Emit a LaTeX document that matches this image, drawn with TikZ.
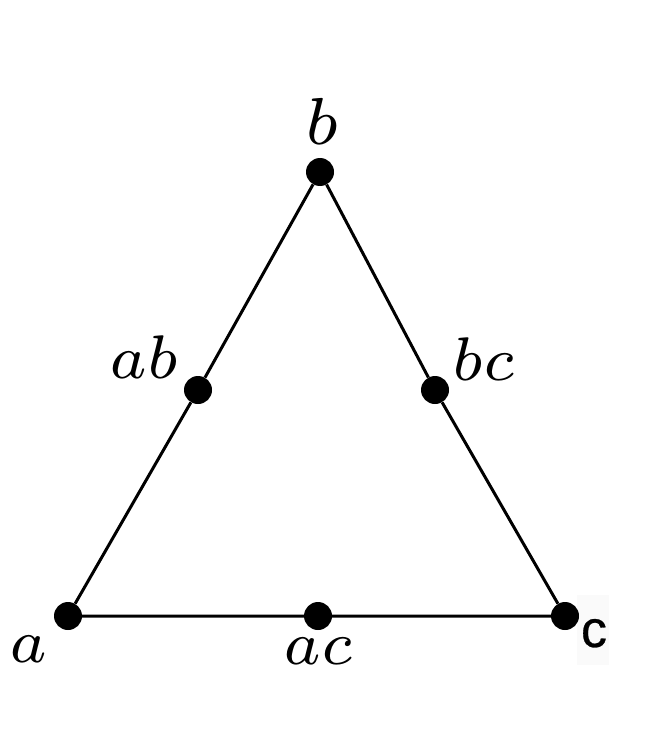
\documentclass[tikz,border=0pt]{standalone}
\usepackage{fontspec}
\usepackage{graphicx}
\newfontfamily\sansc[FakeBold=0.5]{Liberation Sans}
\begin{document}
\begin{tikzpicture}[x=1pt,y=-1pt,
  dot/.style={circle,fill=black,minimum size=28pt,inner sep=0pt},
  lbl/.style={anchor=base,inner sep=0pt},
  edge/.style={line width=3pt}]
\useasboundingbox (0,0) rectangle (665,738);
\fill[white] (0,0) rectangle (665,738);
\fill[black!2] (577,595) rectangle (609,665);
\node[dot] (a) at (68,616) {};
\node[dot] (b) at (320,172) {};
\node[dot] (c) at (565,616) {};
\node[dot] (ab) at (198,390) {};
\node[dot] (bc) at (435,390) {};
\node[dot] (ac) at (318,616) {};
\draw[edge] (a) -- (ab) -- (b) -- (bc) -- (c) -- (ac) -- (a);
\node[lbl] (lb) at (322,145) {\scalebox{9.5}{$\scriptstyle b$}};
\node[lbl] (lab) at (144,378) {\scalebox{8.8}{$\scriptstyle ab$}};
\node[lbl] (lbc) at (484,380) {\scalebox{8.8}{$\scriptstyle bc$}};
\node[lbl] (la) at (29,662) {\scalebox{8.8}{$\scriptstyle a$}};
\node[lbl] (lac) at (318,664) {\scalebox{8.8}{$\scriptstyle ac$}};
\node[lbl,font=\fontsize{52}{60}\sansc] (lc) at (594,647) {c};
\end{tikzpicture}
\end{document}
